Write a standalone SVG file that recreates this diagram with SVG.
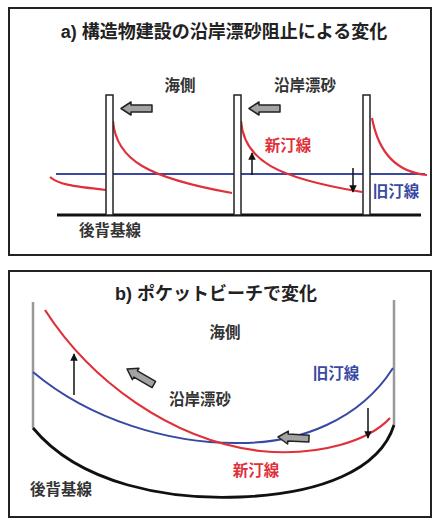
<svg xmlns="http://www.w3.org/2000/svg" width="435" height="520" viewBox="0 0 435 520">
<style>
.frame{fill:#fff;stroke:#222;stroke-width:2}
.t{font-family:"Liberation Sans","Noto Sans CJK JP",sans-serif;font-weight:bold}
.title{font-size:18px;fill:#222}
.lbl{font-size:15.5px;fill:#333}
.red{fill:#e0303a}
.blue{fill:#3949a3}
.groin{fill:#fff;stroke:#222;stroke-width:1.5}
.rl{fill:none;stroke:#e0303a;stroke-width:2.2}
.bl{fill:none;stroke:#3949a3;stroke-width:2}
.base{fill:none;stroke:#111;stroke-width:2.8}
.wall{stroke:#999;stroke-width:2.5}
.sm{stroke:#111;stroke-width:1.5;marker-end:url(#ah)}
.blk{fill:#a3a3a3;stroke:#222;stroke-width:1.5;stroke-linejoin:round}
</style>
<defs>
<marker id="ah" viewBox="0 0 10 10" refX="9" refY="5" markerWidth="5" markerHeight="5" orient="auto"><path d="M0,0 L10,5 L0,10 z" fill="#111"/></marker>
<path id="barrow" d="M0,0 L10,-6.5 L10,-3.5 L31,-3.5 L31,3.5 L10,3.5 L10,6.5 Z"/>
</defs>
<rect width="435" height="520" fill="#fff"/>
<g id="panel-a">
<rect class="frame" x="9" y="8" width="422" height="247"/>
<text class="t title" x="224" y="38" text-anchor="middle">a) 構造物建設の沿岸漂砂阻止による変化</text>
</g>
<g id="panel-b">
<rect class="frame" x="9" y="271" width="422" height="246"/>
<text class="t title" x="216" y="300" text-anchor="middle">b) ポケットビーチで変化</text>
</g>
<g id="connectors">
<line x1="56" y1="174" x2="425" y2="174" class="bl"/>
<line x1="57" y1="215" x2="421" y2="215" class="base"/>
<path class="rl" d="M50,177 C58,184 70,186 106,190"/>
<path class="rl" d="M113,121 C116,160 148,178 232,193"/>
<path class="rl" d="M241,121 C244,160 276,178 362,192"/>
<path class="rl" d="M372,118 C378,150 395,172 427,175"/>
<line class="sm" x1="252" y1="175" x2="252" y2="153"/>
<line class="sm" x1="353" y1="168" x2="353" y2="192"/>
<line class="wall" x1="33" y1="302" x2="33" y2="428"/>
<line class="wall" x1="394" y1="300" x2="394" y2="425"/>
<path class="base" d="M33,428 C80,485 170,500 240,497 C320,494 380,470 394,425"/>
<path class="bl" d="M33,372 C90,420 170,444 240,443 C300,443 360,420 393,368"/>
<path class="rl" d="M45,310 C90,380 170,440 260,451 C320,457 370,440 390,418"/>
<line class="sm" x1="74" y1="395" x2="74" y2="354"/>
<line class="sm" x1="368" y1="408" x2="368" y2="438"/>
</g>
<g id="groin-1"><rect class="groin" x="106" y="95" width="7" height="120"/></g>
<g id="groin-2"><rect class="groin" x="234" y="95" width="7" height="120"/></g>
<g id="groin-3"><rect class="groin" x="363" y="95" width="7" height="120"/></g>
<g id="drift-a1"><use href="#barrow" class="blk" transform="translate(121,108.5)"/></g>
<g id="drift-a2"><use href="#barrow" class="blk" transform="translate(249,108.5)"/></g>
<g id="drift-b1"><use href="#barrow" class="blk" transform="translate(127,369) rotate(30)"/></g>
<g id="drift-b2"><use href="#barrow" class="blk" transform="translate(278,437) rotate(3)"/></g>
<g id="labels-a">
<text class="t lbl" x="180" y="91" text-anchor="middle">海側</text>
<text class="t lbl" x="305" y="91" text-anchor="middle">沿岸漂砂</text>
<text class="t lbl red" x="288" y="151" text-anchor="middle">新汀線</text>
<text class="t lbl blue" x="396" y="197" text-anchor="middle">旧汀線</text>
<text class="t lbl" x="110" y="236" text-anchor="middle">後背基線</text>
</g>
<g id="labels-b">
<text class="t lbl" x="225" y="338" text-anchor="middle">海側</text>
<text class="t lbl blue" x="336" y="379" text-anchor="middle">旧汀線</text>
<text class="t lbl" x="200" y="405" text-anchor="middle">沿岸漂砂</text>
<text class="t lbl red" x="256" y="476" text-anchor="middle">新汀線</text>
<text class="t lbl" x="61" y="495" text-anchor="middle">後背基線</text>
</g>
</svg>
